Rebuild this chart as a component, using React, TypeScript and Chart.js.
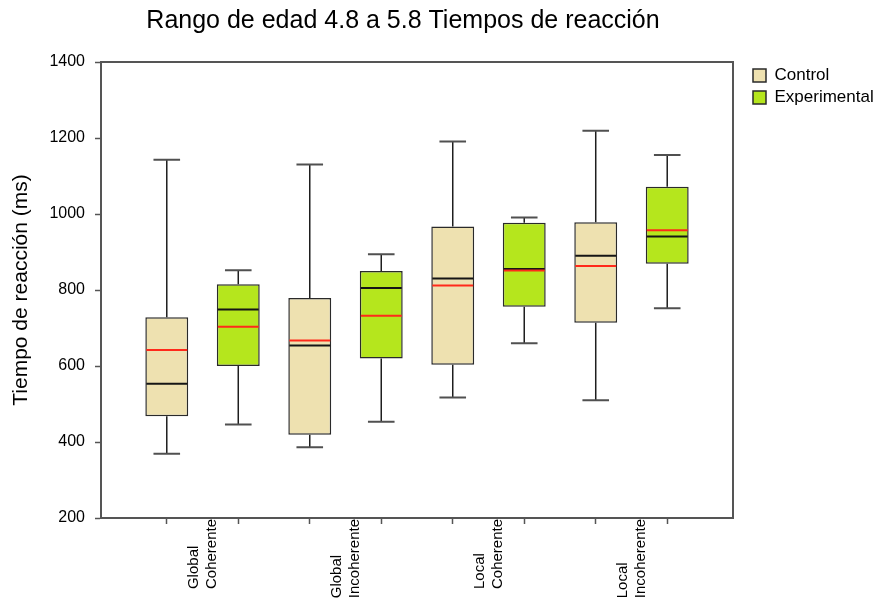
import React, { useEffect, useRef } from 'react';
import { Chart, registerables } from 'chart.js';

Chart.register(...registerables);

// ---- data ----
const chartTitle = 'Rango de edad 4.8 a 5.8 Tiempos de reacción';
const yAxisTitle = 'Tiempo de reacción (ms)';
const groupLabels = [
  ['Global', 'Coherente'],
  ['Global', 'Incoherente'],
  ['Local', 'Coherente'],
  ['Local', 'Incoherente'],
];
const seriesNames = ['Control', 'Experimental'];
const groupCenters = [1.5, 3.5, 5.5, 7.5];
const controlPos = [1, 3, 5, 7];
const experimentalPos = [2, 4, 6, 8];

const controlMin = [369, 386, 517, 510];
const controlQ1 = [468, 419, 603, 714];
const controlMedian = [553, 654, 830, 890];
const controlMean = [642, 667, 812, 863];
const controlQ3 = [728, 779, 967, 978];
const controlMax = [1143, 1130, 1191, 1219];

const expMin = [446, 453, 660, 752];
const expQ1 = [600, 620, 756, 869];
const expMedian = [749, 805, 855, 941];
const expMean = [703, 732, 851, 957];
const expQ3 = [815, 850, 977, 1072];
const expMax = [852, 894, 991, 1155];

const yMin = 200;
const yMax = 1400;
const yStep = 200;
const xMin = 0.08;
const xMax = 8.92;

// ---- styles ----
const FONT = "'Liberation Sans', Arial, Helvetica, sans-serif";
const controlColor = '#EEE1B0';
const expColor = '#B5E61D';
const boxBorder = '#2a2a2a';
const axisColor = '#555555';
const meanColor = '#ff2a1a';
const catFontSize = 15;
const titleShift = -14;

const stats = [
  { min: controlMin, q1: controlQ1, med: controlMedian, mean: controlMean, q3: controlQ3, max: controlMax },
  { min: expMin, q1: expQ1, med: expMedian, mean: expMean, q3: expQ3, max: expMax },
];

const boxExtras = {
  id: 'boxExtras',
  afterLayout(chart: any) {
    const t = chart.titleBlock;
    if (t) {
      t.left += titleShift;
      t.right += titleShift;
    }
  },
  beforeDatasetsDraw(chart: any) {
    const ctx = chart.ctx;
    const y = chart.scales.y;
    ctx.save();
    stats.forEach((st, di) => {
      const meta = chart.getDatasetMeta(di);
      meta.data.forEach((bar: any, i: number) => {
        const { x, width } = bar.getProps(['x', 'width'], true);
        const cap = width * 0.31;
        const pMax = y.getPixelForValue(st.max[i]);
        const pMin = y.getPixelForValue(st.min[i]);
        const pQ1 = y.getPixelForValue(st.q1[i]);
        const pQ3 = y.getPixelForValue(st.q3[i]);
        ctx.strokeStyle = '#1e1e1e';
        ctx.lineWidth = 1.5;
        ctx.beginPath();
        ctx.moveTo(x, pQ3);
        ctx.lineTo(x, pMax);
        ctx.moveTo(x, pQ1);
        ctx.lineTo(x, pMin);
        ctx.stroke();
        ctx.strokeStyle = '#505050';
        ctx.lineWidth = 2;
        ctx.beginPath();
        ctx.moveTo(x - cap, pMax);
        ctx.lineTo(x + cap, pMax);
        ctx.moveTo(x - cap, pMin);
        ctx.lineTo(x + cap, pMin);
        ctx.stroke();
      });
    });
    ctx.restore();
  },
  afterDatasetsDraw(chart: any) {
    const ctx = chart.ctx;
    const y = chart.scales.y;
    ctx.save();
    stats.forEach((st, di) => {
      const meta = chart.getDatasetMeta(di);
      meta.data.forEach((bar: any, i: number) => {
        const { x, width } = bar.getProps(['x', 'width'], true);
        const half = width / 2 - 1;
        const pMed = y.getPixelForValue(st.med[i]);
        const pMean = y.getPixelForValue(st.mean[i]);
        ctx.lineWidth = 2;
        ctx.strokeStyle = '#151515';
        ctx.beginPath();
        ctx.moveTo(x - half, pMed);
        ctx.lineTo(x + half, pMed);
        ctx.stroke();
        ctx.strokeStyle = meanColor;
        ctx.beginPath();
        ctx.moveTo(x - half, pMean);
        ctx.lineTo(x + half, pMean);
        ctx.stroke();
      });
    });
    ctx.restore();
  },
  afterDraw(chart: any) {
    // category labels: rotated, lines start-aligned, longest line reaching the axis
    const ctx = chart.ctx;
    const xs = chart.scales.x;
    const lineH = catFontSize * 1.2;
    ctx.save();
    ctx.font = `${catFontSize}px ${FONT}`;
    ctx.fillStyle = '#000';
    ctx.textAlign = 'left';
    ctx.textBaseline = 'middle';
    groupLabels.forEach((lines, gi) => {
      const cx = xs.getPixelForValue(groupCenters[gi]);
      const widest = Math.max(...lines.map((l) => ctx.measureText(l).width));
      const startY = xs.top + 1 + widest;
      lines.forEach((line, li) => {
        const lx = cx + (li - (lines.length - 1) / 2) * lineH;
        ctx.save();
        ctx.translate(lx, startY);
        ctx.rotate(-Math.PI / 2);
        ctx.fillText(line, 0, 0);
        ctx.restore();
      });
    });
    ctx.restore();
  },
};

export default function App() {
  const ref = useRef<HTMLCanvasElement>(null);

  useEffect(() => {
    document.body.style.margin = '0';
    const canvas = ref.current;
    if (!canvas) return;

    const chart = new Chart(canvas, {
      type: 'bar',
      data: {
        datasets: [
          {
            label: seriesNames[0],
            data: controlPos.map((p, i) => ({ x: p, y: [controlQ1[i], controlQ3[i]] })) as any,
            backgroundColor: controlColor,
            borderColor: boxBorder,
            borderWidth: 1.5,
            borderSkipped: false,
            grouped: false,
            categoryPercentage: 0.8,
            barPercentage: 0.75,
            xAxisID: 'x',
            yAxisID: 'y',
          } as any,
          {
            label: seriesNames[1],
            data: experimentalPos.map((p, i) => ({ x: p, y: [expQ1[i], expQ3[i]] })) as any,
            backgroundColor: expColor,
            borderColor: boxBorder,
            borderWidth: 1.5,
            borderSkipped: false,
            grouped: false,
            categoryPercentage: 0.8,
            barPercentage: 0.75,
            xAxisID: 'x',
            yAxisID: 'y',
          } as any,
        ],
      },
      options: {
        responsive: false,
        animation: false,
        devicePixelRatio: 1,
        layout: { padding: { left: 0, right: 0, top: 0, bottom: 0 } },
        plugins: {
          tooltip: { enabled: false },
          title: {
            display: true,
            text: chartTitle,
            fullSize: false,
            color: '#000',
            font: { family: FONT, size: 25, weight: 'normal' },
            padding: { top: 6, bottom: 0 },
          },
          legend: {
            display: true,
            position: 'right',
            align: 'start',
            fullSize: false,
            maxWidth: 132,
            labels: {
              color: '#000',
              font: { family: FONT, size: 17 },
              boxWidth: 13,
              boxHeight: 13,
              padding: 5,
            },
          },
        },
        scales: {
          x: {
            type: 'linear',
            position: 'bottom',
            min: xMin,
            max: xMax,
            offset: false,
            afterFit: (s: any) => {
              s.height = 93;
            },
            afterBuildTicks: (s: any) => {
              const vals = [...controlPos, ...experimentalPos].sort((a, b) => a - b);
              s.ticks = vals.map((v) => ({ value: v }));
            },
            grid: {
              display: true,
              offset: false,
              drawOnChartArea: false,
              drawTicks: true,
              tickLength: 6,
              tickWidth: 1.5,
              tickColor: axisColor,
            },
            border: { display: true, color: axisColor, width: 2 },
            ticks: { display: false, autoSkip: false },
          },
          xTop: {
            type: 'linear',
            position: 'top',
            min: xMin,
            max: xMax,
            afterFit: (s: any) => {
              s.height = 26;
            },
            grid: { display: false },
            ticks: { display: false },
            border: { display: true, color: axisColor, width: 2 },
          },
          y: {
            type: 'linear',
            position: 'left',
            min: yMin,
            max: yMax,
            afterFit: (s: any) => {
              s.width = 101;
            },
            grid: {
              display: true,
              drawOnChartArea: false,
              drawTicks: true,
              tickLength: 6,
              tickWidth: 1.5,
              tickColor: axisColor,
            },
            border: { display: true, color: axisColor, width: 2 },
            ticks: {
              stepSize: yStep,
              padding: 10,
              color: '#000',
              font: { family: FONT, size: 16 },
              callback: (v: any) => String(v),
            },
            title: {
              display: true,
              text: yAxisTitle,
              color: '#000',
              font: { family: FONT, size: 21 },
              padding: { top: 9, bottom: 0 },
            },
          },
          yRight: {
            type: 'linear',
            position: 'right',
            min: yMin,
            max: yMax,
            afterFit: (s: any) => {
              s.width = 15;
            },
            grid: { display: false },
            ticks: { display: false },
            border: { display: true, color: axisColor, width: 2 },
          },
        },
      } as any,
      plugins: [boxExtras],
    });

    return () => chart.destroy();
  }, []);

  return (
    <div style={{ width: 880, height: 611 }}>
      <canvas ref={ref} width={880} height={611} style={{ display: 'block' }} />
    </div>
  );
}
